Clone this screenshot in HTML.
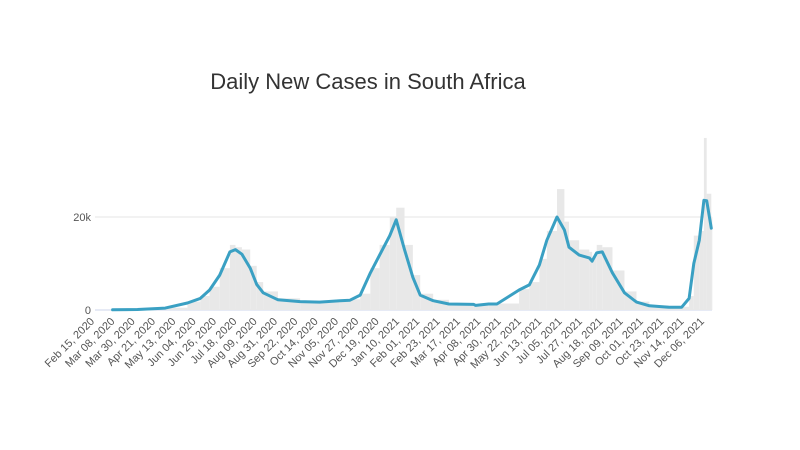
<!DOCTYPE html>
<html><head><meta charset="utf-8"><style>
body{margin:0;background:#fff;}
svg{display:block;font-family:"Liberation Sans",sans-serif;}
</style></head><body>
<svg id="chart" width="800" height="450">
<text x="368" y="89" text-anchor="middle" font-size="22" fill="#333">Daily New Cases in South Africa</text>
<g id="grid"></g><g id="bars"></g><g id="line"></g><g id="yaxis"></g><g id="xaxis"></g>
</svg>
<script>
const lineDates=["2020-03-05","2020-04-01","2020-05-01","2020-05-25","2020-06-08","2020-06-18","2020-06-29","2020-07-10","2020-07-16","2020-07-23","2020-08-01","2020-08-08","2020-08-15","2020-08-31","2020-09-24","2020-10-15","2020-11-06","2020-11-17","2020-11-28","2020-12-09","2020-12-19","2020-12-30","2021-01-06","2021-01-15","2021-01-24","2021-02-01","2021-02-15","2021-03-04","2021-03-31","2021-04-02","2021-04-16","2021-04-25","2021-05-19","2021-05-30","2021-06-10","2021-06-18","2021-06-29","2021-07-07","2021-07-12","2021-07-23","2021-08-03","2021-08-06","2021-08-11","2021-08-17","2021-08-28","2021-09-10","2021-09-23","2021-10-07","2021-10-28","2021-11-11","2021-11-19","2021-11-24","2021-11-30","2021-12-05","2021-12-08","2021-12-13"];
const lineValues=[50,100,400,1500,2500,4300,7500,12500,13000,12000,9000,5500,3700,2200,1800,1700,2000,2100,3200,8000,11800,16000,19400,13000,7000,3200,2000,1300,1200,1000,1300,1300,4300,5400,9700,15000,20000,17200,13500,11800,11200,10500,12300,12500,8000,3700,1700,900,600,600,2500,10000,15000,23600,23500,17600];
const barValues=[80,150,500,1800,3000,5000,9000,14000,13500,13000,9500,6000,4000,2500,2000,1900,2200,2300,3500,9000,14000,20000,22000,14000,7500,3500,2200,1400,1300,1100,1400,1400,4500,6000,11000,17000,26000,19000,15000,13000,12500,11500,14000,13500,8500,4000,1800,1000,700,700,3000,16000,17000,37000,25000,20000];
const tickLabels=["Feb 15, 2020","Mar 08, 2020","Mar 30, 2020","Apr 21, 2020","May 13, 2020","Jun 04, 2020","Jun 26, 2020","Jul 18, 2020","Aug 09, 2020","Aug 31, 2020","Sep 22, 2020","Oct 14, 2020","Nov 05, 2020","Nov 27, 2020","Dec 19, 2020","Jan 10, 2021","Feb 01, 2021","Feb 23, 2021","Mar 17, 2021","Apr 08, 2021","Apr 30, 2021","May 22, 2021","Jun 13, 2021","Jul 05, 2021","Jul 27, 2021","Aug 18, 2021","Sep 09, 2021","Oct 01, 2021","Oct 23, 2021","Nov 14, 2021","Dec 06, 2021"];
const yTicks=[0,20000];
const yTickLabels=["0","20k"];

const NS="http://www.w3.org/2000/svg";
const t0=Date.UTC(2020,1,15);
function dayOf(s){const p=s.split("-");return (Date.UTC(+p[0],+p[1]-1,+p[2])-t0)/86400000;}
function parseLabel(s){const m={Jan:0,Feb:1,Mar:2,Apr:3,May:4,Jun:5,Jul:6,Aug:7,Sep:8,Oct:9,Nov:10,Dec:11};const a=s.replace(",","").split(" ");return (Date.UTC(+a[2],m[a[0]],+a[1])-t0)/86400000;}
const X=d=>95+d*0.924;
const Y=v=>310-v*93/20000;
function mk(tag,attrs,parent){const e=document.createElementNS(NS,tag);for(const k in attrs)e.setAttribute(k,attrs[k]);parent.appendChild(e);return e;}

const grid=document.getElementById("grid"),yaxis=document.getElementById("yaxis");
yTicks.forEach((v,i)=>{
  const l=mk("line",{x1:95,x2:712,y1:Y(v),y2:Y(v),stroke:v===0?"#ccd6eb":"#e6e6e6","stroke-width":1},grid);
  
  
  const t=mk("text",{x:91,y:Y(v)+4,"text-anchor":"end","font-size":11,fill:"#555"},yaxis);
  t.textContent=yTickLabels[i];
  
  
});

const bars=document.getElementById("bars");
lineDates.forEach((d,i)=>{
  const x1=X(dayOf(d));
  const x2=i<lineDates.length-1?X(dayOf(lineDates[i+1])):712;
  const r=mk("rect",{x:x1,y:Y(barValues[i]),width:Math.max(1,x2-x1),height:310-Y(barValues[i]),fill:"#e8e8e8"},bars);
  
  
});

const pts=lineDates.map((d,i)=>X(dayOf(d)).toFixed(1)+","+Y(lineValues[i]).toFixed(1)).join(" ");
const pl=mk("polyline",{points:pts,fill:"none",stroke:"#3aa0c3","stroke-width":3,"stroke-linejoin":"round","stroke-linecap":"round"},document.getElementById("line"));



const xaxis=document.getElementById("xaxis");
tickLabels.forEach(s=>{
  const x=X(parseLabel(s));
  const t=mk("text",{x:x,y:322,"text-anchor":"end","font-size":11,fill:"#555",transform:`rotate(-45 ${x} 322)`},xaxis);
  t.textContent=s;
  
  
});
</script>
</body></html>
